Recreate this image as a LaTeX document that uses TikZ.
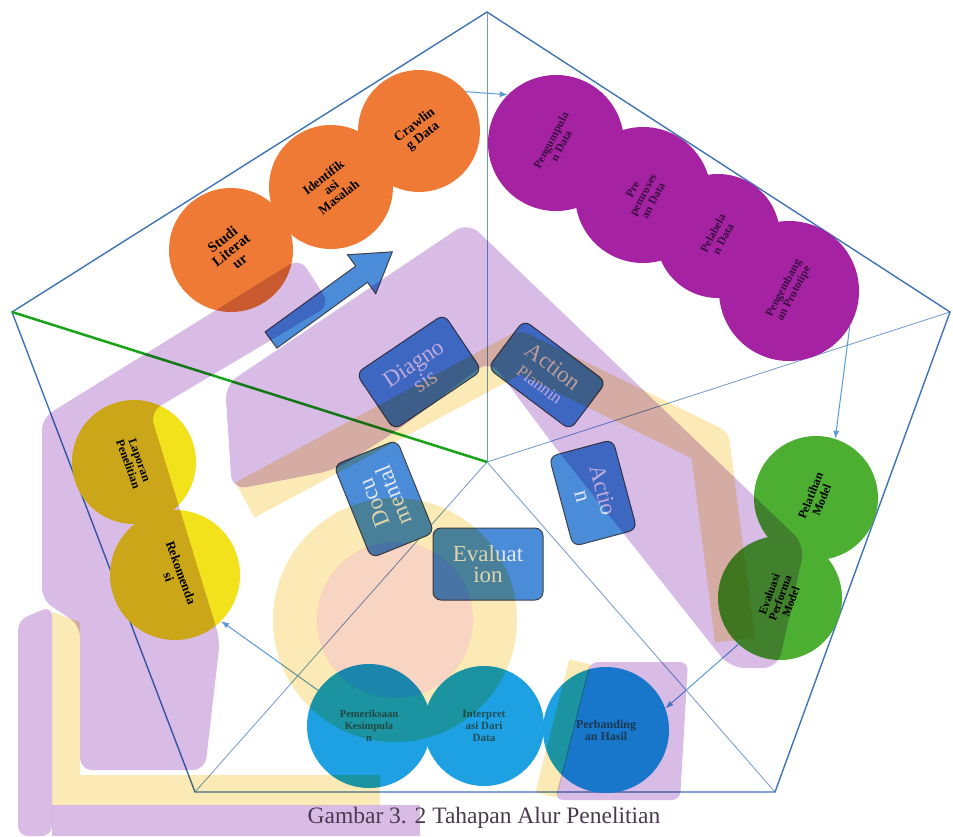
\documentclass[tikz,border=0pt]{standalone}
\usepackage{fontspec}
\setmainfont{Liberation Serif}
\usepackage{xcolor}
\usetikzlibrary{positioning,arrows.meta}

\definecolor{jingga}{HTML}{EE7A35}
\definecolor{ungu}{HTML}{A523A3}
\definecolor{hijau}{HTML}{4DAF32}
\definecolor{kuning}{HTML}{F2E21C}
\definecolor{biru}{HTML}{1DA1E2}
\definecolor{biruk}{HTML}{4A8CD8}
\definecolor{tepik}{HTML}{3E4250}
\definecolor{garis}{HTML}{3F74B5}
\definecolor{jarik}{HTML}{7098CC}
\definecolor{panah}{HTML}{5B9BD5}
\definecolor{lav}{HTML}{D8BCE6}
\definecolor{krem}{HTML}{FBEAB5}
\definecolor{persik}{HTML}{F8D4C2}
\definecolor{teks}{HTML}{E2E8F4}
\definecolor{teksungu}{HTML}{3A0E40}
\definecolor{teksbiru}{HTML}{1F4F5A}
\definecolor{keterangan}{HTML}{4A3A4E}

\begin{document}
\begin{tikzpicture}[x=1pt, y=-1pt,
    bulat/.style={circle, inner sep=0pt, align=center,
        font=\bfseries\fontsize{12}{12}\selectfont},
    kotakb/.style={rectangle, rounded corners=8pt, draw=tepik, line width=1pt,
        fill=biruk, text=teks, align=center, inner sep=2pt,
        font=\fontsize{23}{21}\selectfont},
    alur/.style={draw=panah, line width=1pt, -{Latex[length=8pt,width=6pt]}},
    jari/.style={draw=jarik, line width=0.8pt},
    tepi/.style={draw=garis, line width=1.4pt}]

    \fill[white] (0,0) rectangle (953,836);
    \useasboundingbox (0,0) rectangle (953,836);

    % pentagon
    \coordinate (pt) at (487,12);
    \coordinate (pr) at (950,312);
    \coordinate (pbr) at (775,792);
    \coordinate (pbl) at (195,792);
    \coordinate (pl) at (12,312);
    \coordinate (pusat) at (487,462);

    \draw[jari] (pusat) -- (pt);
    \draw[jari] (pusat) -- (pr);
    \draw[jari] (pusat) -- (pbr);
    \draw[jari] (pusat) -- (pbl);
    \draw[tepi] (pt) -- (pr) -- (pbr) -- (pbl) -- (pl) -- cycle;

    % tahap awal
    \node (studi) [bulat, fill=jingga, minimum size=124pt, rotate=38,
        font=\bfseries\fontsize{14.5}{14}\selectfont] at (231,250) {Studi\\Literat\\ur};
    \node (identifikasi) [bulat, fill=jingga, minimum size=124pt, rotate=38,
        font=\bfseries\fontsize{13}{12.5}\selectfont] at (331,187) {Identifik\\asi\\Masalah};
    \node (crawling) [bulat, fill=jingga, minimum size=122pt, rotate=38,
        font=\bfseries\fontsize{13.5}{13.5}\selectfont] at (419,131) {Crawlin\\g Data};

    % pengolahan data
    \node (kumpul) [bulat, fill=ungu, text=teksungu, minimum size=136pt, rotate=62,
        font=\bfseries\fontsize{11.5}{11.5}\selectfont] at (556,143) {Pengumpula\\n Data};
    \node (prapro) [bulat, fill=ungu, text=teksungu, minimum size=136pt, rotate=62,
        font=\bfseries\fontsize{11.5}{11.5}\selectfont] at (643,195) {Pre\\pemroses\\an Data};
    \node (label) [bulat, fill=ungu, text=teksungu, minimum size=124pt, rotate=62,
        font=\bfseries\fontsize{11.5}{11.5}\selectfont] at (718,236) {Pelabela\\n Data};
    \node (kembang) [bulat, fill=ungu, text=teksungu, minimum size=140pt, rotate=62,
        font=\bfseries\fontsize{11.5}{11.5}\selectfont] at (789,291) {Pengembang\\an Prototipe};

    % model
    \node (latih) [bulat, fill=hijau, minimum size=124pt, rotate=68] at (816,498) {Pelatihan\\Model};
    \node (evalmodel) [bulat, fill=hijau, minimum size=124pt, rotate=70,
        font=\bfseries\fontsize{11.5}{11.5}\selectfont] at (780,598) {Evaluasi\\Performa\\Model};

    % hasil
    \node (banding) [bulat, fill=biru, text=teksbiru, minimum size=126pt] at (606,730) {Perbanding\\an Hasil};
    \node (interpretasi) [bulat, fill=biru, text=teksbiru, minimum size=120pt,
        font=\bfseries\fontsize{11}{12}\selectfont] at (484,726) {Interpret\\asi Dari\\Data};
    \node (periksa) [bulat, fill=biru, text=teksbiru, minimum size=124pt,
        font=\bfseries\fontsize{10.5}{12}\selectfont] at (369,726) {Pemeriksaan\\Kesimpula\\n};

    % laporan
    \node (rekomendasi) [bulat, fill=kuning, minimum size=130pt, rotate=-70,
        font=\bfseries\fontsize{13}{13}\selectfont] at (175,575) {Rekomenda\\si};
    \node (laporan) [bulat, fill=kuning, minimum size=124pt, rotate=-70] at (134,462) {Laporan\\Penelitian};

    % siklus action research
    \node (diagnosis) [kotakb, rotate=34, minimum width=106pt, minimum height=68pt] at (419,372) {Diagno\\sis};
    \node (planning) [kotakb, rotate=-37, minimum width=103pt, minimum height=60pt] at (547,375)
        {Action\\{\fontsize{17}{16}\selectfont Plannin}};
    \node (action) [kotakb, rotate=-75, minimum width=93pt, minimum height=66pt] at (593,493) {Actio\\n};
    \node (evaluation) [kotakb, minimum width=110pt, minimum height=72pt] at (488,564) {Evaluat\\ion};
    \node (docu) [kotakb, rotate=112, minimum width=100pt, minimum height=68pt] at (384,499) {Docu\\mental};

    \draw[draw=green!60!black!90, line width=2.5pt] (pl) -- (pusat);

    % panah blok
    \draw[tepik, line width=1pt, fill=biruk, shift={(271,340)}, rotate=36]
        (0,-10) -- (112,-10) -- (112,-24) -- (150,0) -- (112,24) -- (112,10) -- (0,10) -- cycle;

    \draw[alur] (crawling.2) -- (kumpul.73);
    \draw[alur] (kembang.-92) -- (latih.4);
    \draw[alur] (evalmodel.158) -- (banding.20);
    \draw[alur] (periksa.145) -- (rekomendasi.25);

    % latar logo
    \begin{scope}[blend mode=multiply]
        \fill[lav, rounded corners=12pt] (42,418) -- (300,258) -- (330,305) -- (150,412) -- (220,640)
            -- (205,770) -- (80,770) -- (80,625) -- (42,600) -- cycle;
        \fill[lav, rounded corners=15pt] (468,222) -- (805,545) -- (778,668) -- (730,668) -- (555,447)
            -- (490,360) -- (395,432) -- (335,470) -- (232,490) -- (225,385) -- cycle;
        \fill[lav, rounded corners=8pt] (590,662) -- (688,662) -- (680,800) -- (555,800) -- cycle;
        \fill[lav, rounded corners=10pt] (18,620) -- (52,606) -- (52,836) -- (18,836) -- cycle;
        \fill[lav] (52,805) -- (420,805) -- (420,836) -- (52,836) -- cycle;
        \fill[krem] (52,612) -- (80,622) -- (80,775) -- (380,775) -- (380,805) -- (52,805) -- cycle;
        \fill[krem, even odd rule] (395,620) circle[radius=122] (395,620) circle[radius=78];
        \fill[persik] (395,620) circle[radius=78];
        \draw[krem, line width=40pt, line join=round] (245,500) -- (520,352) -- (710,445) -- (735,640);
        \draw[krem, line width=22pt] (580,662) -- (546,795);
    \end{scope}

    \node (judul) [text=keterangan, font=\fontsize{23.5}{24}\selectfont] at (484,818)
        {Gambar 3. 2 Tahapan Alur Penelitian};
\end{tikzpicture}
\end{document}
